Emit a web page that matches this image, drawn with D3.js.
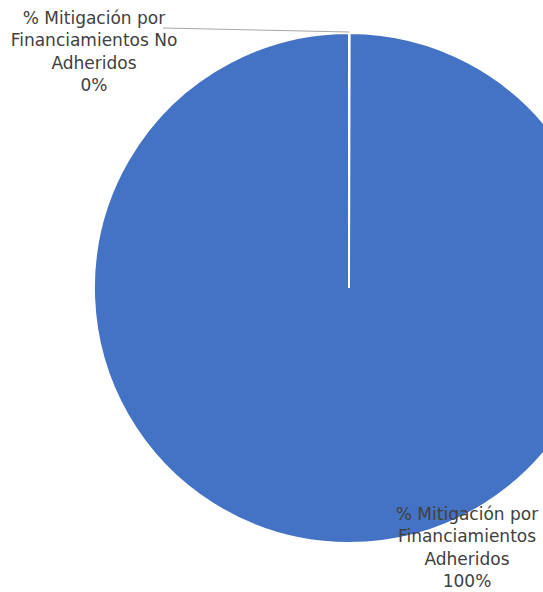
<!DOCTYPE html>
<html>
<head>
<meta charset="utf-8">
<script src="https://cdn.jsdelivr.net/npm/d3@7"></script>
<style>
  body { margin: 0; background: #fff; }
</style>
</head>
<body>
<div id="chart"></div>
<script>
var categories = ["% Mitigación por Financiamientos No Adheridos", "% Mitigación por Financiamientos Adheridos"];
var labelLines = [
    ["% Mitigación por", "Financiamientos No", "Adheridos"],
    ["% Mitigación por", "Financiamientos", "Adheridos"]
];
var values = [0.0004, 0.9996];

var width = 543,
    height = 592,
    radius = 255;

var svg = d3.select("#chart")
    .append("svg")
        .attr("width", width)
        .attr("height", height)
        .style("font-family", "'DejaVu Sans', sans-serif");

var pieChart = svg.append("g")
    .attr("transform", "translate(349,288)");

var pie = d3.pie().sort(null).value(function(d) { return d; });
var arc = d3.arc().innerRadius(0).outerRadius(radius);
var slices = pie(values);

pieChart.selectAll(".slice")
    .data(slices)
    .enter()
    .append("path")
        .attr("class", "slice")
        .attr("d", arc)
        .attr("fill", "#4472c4")
        .attr("stroke", "#fff")
        .attr("stroke-width", 2);

var pct = d3.format(".0%");

// label positions, relative to pie centre
var labelPos = [[-255, -264], [118, 232]];

// leader line for the small slice
var edge = d3.arc().innerRadius(radius).outerRadius(radius).centroid(slices[0]);
pieChart.append("path")
    .attr("fill", "none")
    .attr("stroke", "#a6a6a6")
    .attr("stroke-width", 1)
    .attr("d", d3.line()([[-186, -260], [edge[0], edge[1] - 1]]));

slices.forEach(function(s, i) {
    var lines = labelLines[i].concat([pct(values[i])]);
    var t = pieChart.append("text")
        .attr("x", labelPos[i][0])
        .attr("y", labelPos[i][1])
        .attr("text-anchor", "middle")
        .attr("fill", "#404040")
        .style("font-size", "17px");
    lines.forEach(function(l, j) {
        t.append("tspan")
            .attr("x", labelPos[i][0])
            .attr("dy", j === 0 ? 0 : 22.3)
            .text(l);
    });
});
</script>
</body>
</html>
